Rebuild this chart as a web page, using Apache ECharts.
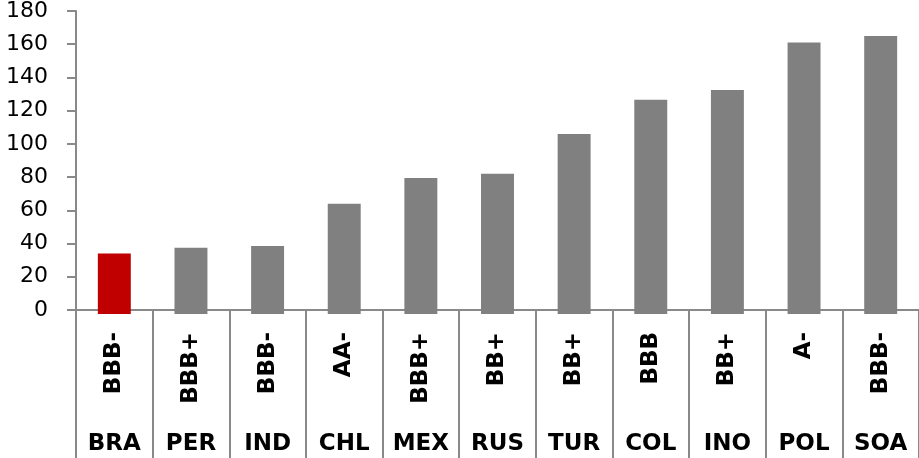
<!DOCTYPE html>
<html>
<head>
<meta charset="utf-8">
<script src="https://cdn.jsdelivr.net/npm/echarts@6/dist/echarts.min.js"></script>
<style>
  html, body { margin: 0; padding: 0; background: #fff; }
  #chart { width: 919px; height: 458px; }
</style>
</head>
<body>
<div id="chart"></div>
<script>
// Country codes and their sovereign ratings
const countries = ['BRA', 'PER', 'IND', 'CHL', 'MEX', 'RUS', 'TUR', 'COL', 'INO', 'POL', 'SOA'];
const ratings = ['BBB-', 'BBB+', 'BBB-', 'AA-', 'BBB+', 'BB+', 'BB+', 'BBB', 'BB+', 'A-', 'BBB-'];
// Values per country
const values = [34, 37.5, 38.5, 64, 79.5, 82, 106, 126.5, 132.5, 161, 165];
// Value axis range
const yMin = 0;
const yMax = 180;
const yStep = 20;

const highlight = 'BRA';
const RED = '#c00000';
const GRAY = '#808080';
const LINE = '#898989';
const FONT = 'DejaVu Sans';

const chart = echarts.init(document.getElementById('chart'), null, { renderer: 'canvas' });

const labelBase = {
  color: '#000',
  fontFamily: FONT,
  fontWeight: 'bold',
  fontSize: 23,
  interval: 0
};

chart.setOption({
  backgroundColor: '#fff',
  animation: false,
  grid: { left: 76, top: 11, width: 845, height: 299, containLabel: false },
  xAxis: [
    {
      type: 'category',
      data: countries,
      position: 'bottom',
      boundaryGap: true,
      axisLine: { show: true, lineStyle: { color: LINE, width: 2 } },
      axisTick: { show: true, interval: 0, length: 150, lineStyle: { color: LINE, width: 2 } },
      axisLabel: Object.assign({}, labelBase, {
        rotate: 90,
        margin: 22,
        formatter: (v, i) => ratings[i]
      }),
      splitLine: { show: false }
    },
    {
      type: 'category',
      data: countries,
      position: 'bottom',
      boundaryGap: true,
      axisLine: { show: false },
      axisTick: { show: false },
      axisLabel: Object.assign({}, labelBase, { margin: 123 }),
      splitLine: { show: false }
    }
  ],
  yAxis: {
    type: 'value',
    min: yMin,
    max: yMax,
    interval: yStep,
    axisLine: { show: true, lineStyle: { color: LINE, width: 2 } },
    axisTick: { show: true, length: 9, lineStyle: { color: LINE, width: 2 } },
    axisLabel: {
      color: '#000',
      fontFamily: FONT,
      fontSize: 22,
      margin: 28
    },
    splitLine: { show: false }
  },
  series: [
    {
      type: 'custom',
      xAxisIndex: 0,
      yAxisIndex: 0,
      data: values.map((v, i) => [i, v]),
      encode: { x: 0, y: 1 },
      clip: false,
      renderItem: function (params, api) {
        const i = api.value(0);
        const top = api.coord([i, api.value(1)]);
        const base = api.coord([i, 0]);
        const w = api.size([1, 0])[0] * 0.43;
        return {
          type: 'rect',
          shape: { x: top[0] - w / 2, y: top[1], width: w, height: base[1] - top[1] + 4 },
          style: { fill: countries[i] === highlight ? RED : GRAY }
        };
      }
    }
  ]
});
</script>
</body>
</html>
